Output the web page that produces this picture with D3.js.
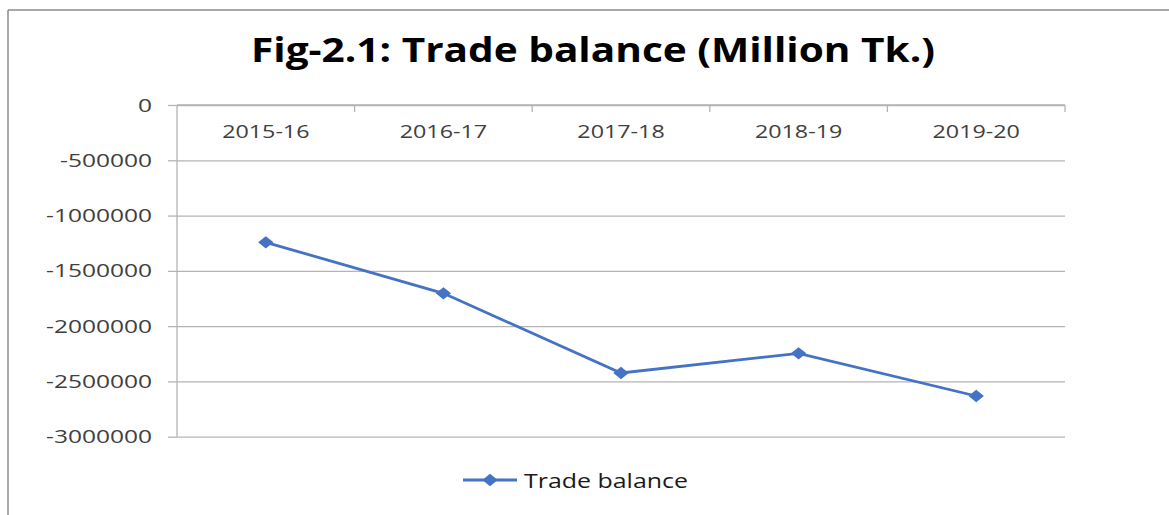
<!DOCTYPE html>
<html><head><meta charset="utf-8">
<script src="https://cdn.jsdelivr.net/npm/d3@7"></script>
<style>html,body{margin:0;padding:0;background:#fff;}svg{display:block;}</style>
</head><body>
<svg id="c" width="1169" height="515"></svg>
<script>
const categories = ["2015-16","2016-17","2017-18","2018-19","2019-20"];
const tradeBalance = [-1242000,-1703000,-2424000,-2246000,-2632000];
const yTicks = [0,-500000,-1000000,-1500000,-2000000,-2500000,-3000000];
const seriesName = "Trade balance";
const title = "Fig-2.1: Trade balance (Million Tk.)";

const svg = d3.select("#c");
const FONT = "'Open Sans', sans-serif";
function stretchTo(sel, w){ sel.attr("textLength", w).attr("lengthAdjust","spacingAndGlyphs"); }
function stretch(sel, f){ sel.each(function(){ const w=this.getComputedTextLength(); d3.select(this).attr("textLength", w*f).attr("lengthAdjust","spacingAndGlyphs"); }); }

// outer border
svg.append("line").attr("x1",8).attr("x2",1169).attr("y1",10).attr("y2",10).attr("stroke","#8c8c8c").attr("stroke-width",1.5);
svg.append("line").attr("x1",8).attr("x2",8).attr("y1",10).attr("y2",515).attr("stroke","#8c8c8c").attr("stroke-width",1.5);

const L=177, R=1065, T=105, B=436.7;
const x = d3.scaleBand().domain(categories).range([L,R]);
const y = d3.scaleLinear().domain([0,-3000000]).range([T,B]);

// title
const tt = svg.append("text").attr("x",593).attr("y",62).attr("text-anchor","middle")
  .attr("font-family",FONT).attr("font-weight","bold").attr("font-size",34).attr("fill","#000").text(title);
stretchTo(tt, 684);

// gridlines
const grid = svg.append("g").attr("transform",`translate(${L},0)`)
  .call(d3.axisLeft(y).tickValues(yTicks).tickSize(-(R-L)).tickFormat(""));
grid.select(".domain").remove();
grid.selectAll(".tick line").attr("stroke","#b4b4b4").attr("stroke-width",1.3);

// y axis
const ya = svg.append("g").attr("transform",`translate(${L},0)`)
  .call(d3.axisLeft(y).tickValues(yTicks).tickSize(9).tickPadding(16).tickFormat(d => String(d)));
ya.select(".domain").attr("stroke","#b4b4b4").attr("stroke-width",1.3).attr("d",`M0,${T}V${B}`);
ya.selectAll(".tick line").attr("stroke","#b4b4b4").attr("stroke-width",1.3);
ya.selectAll(".tick text").attr("font-family",FONT).attr("font-size",17.5).attr("fill","#404040").attr("dy","0.35em");
stretch(ya.selectAll(".tick text"), 1.4);

// x axis at top (y=0), category labels below
const xa = svg.append("g").attr("transform",`translate(0,${y(0)})`)
  .call(d3.axisBottom(x).tickSize(0).tickPadding(0));
xa.select(".domain").attr("stroke","#b4b4b4").attr("stroke-width",1.3).attr("d",`M${L},0H${R}`);
xa.selectAll(".tick text").attr("font-family",FONT).attr("font-size",17.5).attr("fill","#404040").attr("dy",0).attr("y",33);
stretch(xa.selectAll(".tick text"), 1.33);
// boundary tick marks
const bounds = categories.map(c=>x(c)).concat([R]).slice(1);
xa.selectAll(".bt").data(bounds).join("line").attr("class","bt")
  .attr("x1",d=>d).attr("x2",d=>d).attr("y1",0).attr("y2",7).attr("stroke","#b4b4b4").attr("stroke-width",1.3);

// line
const color = "#4472C4";
const cx = c => x(c)+x.bandwidth()/2;
const line = d3.line().x((d,i)=>cx(categories[i])).y(d=>y(d));
svg.append("path").datum(tradeBalance).attr("d",line).attr("fill","none").attr("stroke",color).attr("stroke-width",2.8);
const sym = d3.symbol(d3.symbolSquare, 76);
svg.selectAll(".mk").data(tradeBalance).join("path").attr("class","mk")
  .attr("d",sym).attr("fill",color)
  .attr("transform",(d,i)=>`translate(${cx(categories[i])},${y(d)}) scale(1.25,1) rotate(45)`);

// legend
const lg = svg.append("g");
lg.append("line").attr("x1",463).attr("x2",517).attr("y1",480).attr("y2",480).attr("stroke",color).attr("stroke-width",2.8);
lg.append("path").attr("d",sym).attr("fill",color).attr("transform",`translate(490,480) scale(1.25,1) rotate(45)`);
const lt = lg.append("text").attr("x",524).attr("y",488).attr("font-family",FONT).attr("font-size",20.5).attr("fill","#1a1a1a").text(seriesName);
stretchTo(lt, 164);
</script>
</body></html>
